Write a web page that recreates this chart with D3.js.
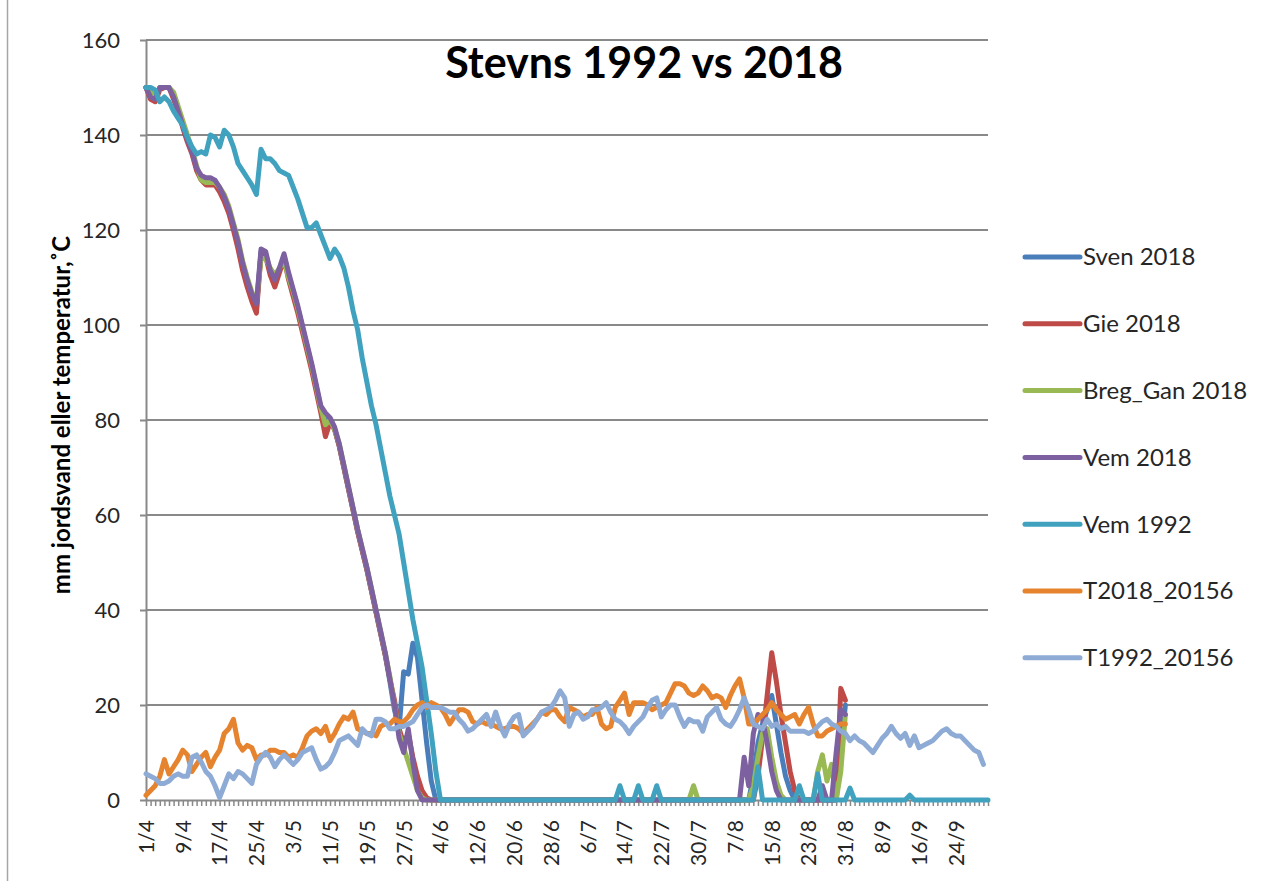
<!DOCTYPE html>
<html>
<head>
<meta charset="utf-8">
<script src="https://cdn.jsdelivr.net/npm/d3@7"></script>
<style>
  body { margin: 0; background: #fff; }
  svg { display: block; font-family: Lato, "Liberation Sans", sans-serif; }
</style>
</head>
<body>
<div id="chart"></div>
<script>
// categories: one per day, 1/4 .. 1/10
const start = new Date(2018, 3, 1);
const categories = d3.timeDay.range(start, d3.timeDay.offset(start, 184)).map(d3.timeFormat("%-d/%-m"));

const tickLabels = ["1/4","9/4","17/4","25/4","3/5","11/5","19/5","27/5","4/6","12/6","20/6","28/6",
  "6/7","14/7","22/7","30/7","7/8","15/8","23/8","31/8","8/9","16/9","24/9"];
const yTicks = [0, 20, 40, 60, 80, 100, 120, 140, 160];

const seriesNames = ["Sven 2018", "Gie 2018", "Breg_Gan 2018", "Vem 2018", "Vem 1992", "T2018_20156", "T1992_20156"];
const seriesColors = ["#4a7ebb", "#be4b48", "#98b954", "#7d60a0", "#40a2bf", "#e6832f", "#8eabd6"];

const sven2018 = [
  150,148,147.5,150,150,150,148,145,142,139,
  136.5,133,131,130.5,130.5,130,128.5,126.5,124,120.5,
  117,112.5,109,106,103.5,115.5,115,111,109,111.5,
  114.5,110.5,107,103.5,99.5,95.5,91.5,87,82.5,80,
  80,78,74.5,70,65.5,61,56.5,52.5,48.5,44,
  39.5,35,30.5,25,19,15,27,26.5,33,30,
  21,12,4,0,0,0,0,0,0,0,
  0,0,0,0,0,0,0,0,0,0,
  0,0,0,0,0,0,0,0,0,0,
  0,0,0,0,0,0,0,0,0,0,
  0,0,0,0,0,0,0,0,0,0,
  0,0,0,0,0,0,0,0,0,0,
  0,0,0,0,0,0,0,0,0,0,
  0,0,5,12,16,19,22,16,10,5,
  2,0,0,0,0,0,0,0,0,0,
  0,10,20];

const gie2018 = [
  150,147.5,147,149.5,150,150,147.5,145,141.5,138.5,
  136,132.5,130.5,129.5,129.5,129.5,128,126,123.5,120,
  116,111.5,108,105,102.5,115,114.5,110.5,108,111,
  114,109.5,106,102.5,98.5,94.5,90.5,86,81.5,76.5,
  79.5,78,74.5,70,65.5,61,56.5,52.5,48.5,44,
  39.5,35,30.5,25.5,21,15,12,14,9,5,
  2,0.5,0,0,0,0,0,0,0,0,
  0,0,0,0,0,0,0,0,0,0,
  0,0,0,0,0,0,0,0,0,0,
  0,0,0,0,0,0,0,0,0,0,
  0,0,0,0,0,0,0,0,0,0,
  0,0,0,0,0,0,0,0,0,0,
  0,0,0,0,0,0,0,0,0,0,
  0,0,0,5,13,22,31,25,18,12,
  6,2,0,0,0,0,0,0,0,0,
  0,23.5,21];

const bregGan2018 = [
  150,149,148,150,150,150,149,146,143,140,
  137,133.5,130.5,130,130,130,129,127.5,125,121.5,
  118,113.5,110,107,105,114,114,112,110.5,112,
  113.5,110,107,103.5,99.5,95.5,91.5,87,82.5,79,
  80,78,75,70.5,66,61.5,57,53,49,44.5,
  40,35.5,31,26,20,14,11,8,5,2,
  0.5,0,0,0,0,0,0,0,0,0,
  0,0,0,0,0,0,0,0,0,0,
  0,0,0,0,0,0,0,0,0,0,
  0,0,0,0,0,0,0,0,0,0,
  0,0,0,0,0,0,0,0,0,0,
  0,0,0,0,0,0,0,0,0,3,
  0,0,0,0,0,0,0,0,0,0,
  0,0,3,9,14,15,9,4,1,0,
  0,0,0,0,0,0,6,9.5,4,7.5,
  0,6,18];

const vem2018 = [
  150,148,147.5,150,150,150,148,145,142,139,
  136.5,133,131.5,131,131,130.5,129,127,124.5,121,
  117.5,113,109.5,106.5,104.5,116,115.5,111.5,109.5,112,
  115,111,107.5,104,100,96,92,87.5,83,81.5,
  80.5,78.5,75,70.5,66,61.5,57,53,49,44.5,
  40,35.5,31,25.5,20,13,10,15,8,2,
  0,0,0,0,0,0,0,0,0,0,
  0,0,0,0,0,0,0,0,0,0,
  0,0,0,0,0,0,0,0,0,0,
  0,0,0,0,0,0,0,0,0,0,
  0,0,0,0,0,0,0,0,0,0,
  0,0,0,0,0,0,0,0,0,0,
  0,0,0,0,0,0,0,0,0,0,
  9,3,14,18,17,12,6,2,0,0,
  0,0,0,0,0,0,0,3,0,0,
  10,19,18];

const vem1992 = [
  150,150,149.5,147,148,147,145,143.5,142,139.5,
  137.5,136,136.5,136,140,139.5,137.5,141,140,137.5,
  134,132.5,131,129.5,127.5,137,135,135,134,132.5,
  132,131.5,129,126.5,123.5,120.5,120.5,121.5,119,116.5,
  114,116,114.5,112,108,103,99,93,88,83,
  79,74,69,64,60,56,50,44,38,33,
  28,21,14,6,0,0,0,0,0,0,
  0,0,0,0,0,0,0,0,0,0,
  0,0,0,0,0,0,0,0,0,0,
  0,0,0,0,0,0,0,0,0,0,
  0,0,0,3,0,0,0,3,0,0,
  0,3,0,0,0,0,0,0,0,0,
  0,0,0,0,0,0,0,0,0,0,
  0,0,0,7,0,0,0,0,0,0,
  0,0,3,0,0,0,5.5,0,0,0,
  0,0,0,2.5,0,0,0,0,0,0,
  0,0,0,0,0,0,1,0,0,0,
  0,0,0,0,0,0,0,0,0,0,
  0,0,0,0];

const t2018 = [
  1,2,3,5,8.5,5.5,7,8.5,10.5,9.5,
  6,7.5,9,10,7,9,10.5,14,15,17,
  12,10.5,11.5,11,8.5,9.5,9.5,10.5,10.5,10,
  10,9,9.5,9,11,13.5,14.5,15,14,15.5,
  12.5,14,16,17.5,17,18.5,15,14.5,14,14,
  13.5,15.5,16,16,17,16.5,16.5,17.5,19,20,
  20.5,19.5,20.5,20,19.5,18,16,17.5,19,19,
  18.5,16.5,16,16.5,16,16,15.5,15,15,15.5,
  15.5,15,14,15,16,17,18.5,18,19,19,
  17.5,16.5,19.5,19,18.5,17.5,18,18,19.5,16,
  15,15.5,19.5,21,22.5,18,20.5,20.5,20.5,20,
  19,19.5,20,20.5,22.5,24.5,24.5,24,22.5,22,
  22.5,24,23,21.5,22,21.5,19.5,22,24,25.5,
  21.5,16,16,17,18,19,20.5,19,18,17,
  17.5,18,16,18,19.5,16,13.5,13.5,14.5,15,
  15.5,16,16];

const t1992 = [
  5.5,5,4.5,3.5,3.5,4,5,5.5,5,5,
  9,9.5,8,6,5,3,0.5,3,5.5,4.5,
  6,5.5,4.5,3.5,7.5,9,10,9,7,8.5,
  9.5,8.5,7.5,8.5,10,10.5,11,8.5,6.5,7,
  8,10,12.5,13,13.5,12.5,11.5,15,14,13.5,
  17,17,16.5,15,15,15.5,15.5,16,16.5,18,
  19.5,20,19.5,19.5,19.5,19,18.5,18.5,17,16,
  14.5,15,16,17,18,15.5,18.5,15.5,13.5,16,
  17.5,18,13.5,14.5,15.5,17,18.5,19,19.5,21,
  23,21.5,15.5,18,18.5,17,17.5,19,19,19.5,
  20.5,18.5,17,16.5,15.5,14,15.5,16.5,17.5,19.5,
  21,21.5,17.5,19,20,20,17.5,15.5,17,16.5,
  16.5,14.5,17.5,18.5,19.5,17,16,15.5,17,19,
  21.5,19,16,15.5,15,17,15.5,16,15,15.5,
  14.5,14.5,14.5,14.5,14,14.5,15.5,16.5,17,16,
  15.5,14.5,14,12.5,13.5,12.5,12,11,10,11.5,
  13,14,15.5,14,13,14,11.5,13.5,11,11.5,
  12,12.5,13.5,14.5,15,14,13.5,13.5,12.5,11.5,
  10.5,10,7.5];

const seriesValues = [sven2018, gie2018, bregGan2018, vem2018, vem1992, t2018, t1992];

const width = 1276;
const height = 881;
const marginTop = 40;
const marginBottom = 81;
const marginLeft = 146;
const marginRight = 288;
const gray = "#898989";

const x = d3.scalePoint()
    .domain(categories)
    .range([marginLeft, width - marginRight]);

const y = d3.scaleLinear()
    .domain([0, 160])
    .range([height - marginBottom, marginTop]);

const svg = d3.select("#chart")
  .append("svg")
    .attr("width", width)
    .attr("height", height)
    .attr("viewBox", [0, 0, width, height]);

// chart area border (left edge)
svg.append("line")
    .attr("x1", 7.5).attr("x2", 7.5)
    .attr("y1", 0).attr("y2", height)
    .attr("stroke", "#a6a6a6")
    .attr("stroke-width", 1.5);

// horizontal grid lines
svg.append("g")
    .attr("stroke", gray)
    .attr("stroke-width", 2)
  .selectAll("line")
  .data(yTicks.filter(d => d > 0))
  .join("line")
    .attr("x1", marginLeft)
    .attr("x2", width - marginRight)
    .attr("y1", d => y(d))
    .attr("y2", d => y(d));

// vertical axis
svg.append("g")
    .attr("transform", `translate(${marginLeft},0)`)
    .call(d3.axisLeft(y).tickValues(yTicks).tickSize(6).tickSizeOuter(0).tickPadding(20))
    .call(g => g.select(".domain").attr("stroke", gray).attr("stroke-width", 2))
    .call(g => g.selectAll(".tick line").attr("stroke", gray).attr("stroke-width", 2))
    .call(g => g.selectAll(".tick text")
        .attr("fill", "#262626")
        .style("font-size", "22px")
        .style("font-family", "Lato, 'Liberation Sans', sans-serif"));

// horizontal axis, one tick per day
svg.append("g")
    .attr("transform", `translate(0,${height - marginBottom})`)
    .call(d3.axisBottom(x).tickValues(categories).tickSize(6).tickSizeOuter(0)
        .tickFormat(d => tickLabels.includes(d) ? d : ""))
    .call(g => g.select(".domain").attr("stroke", gray).attr("stroke-width", 2))
    .call(g => g.selectAll(".tick line").attr("stroke", gray).attr("stroke-width", 1.5))
    .call(g => g.selectAll(".tick text")
        .attr("transform", "rotate(-90)")
        .attr("x", -20)
        .attr("y", 0)
        .attr("dy", "0.35em")
        .attr("text-anchor", "end")
        .attr("fill", "#262626")
        .style("font-size", "21px")
        .style("font-family", "Lato, 'Liberation Sans', sans-serif"));

// the lines
const line = d3.line()
    .defined(d => d != null)
    .x((d, i) => x(categories[i]))
    .y(d => y(d));

svg.append("g")
    .attr("fill", "none")
  .selectAll("path")
  .data(seriesValues)
  .join("path")
    .attr("stroke", (d, i) => seriesColors[i])
    .attr("stroke-width", 5)
    .attr("stroke-linejoin", "round")
    .attr("stroke-linecap", "round")
    .attr("d", line);

// title
svg.append("text")
    .attr("x", 644)
    .attr("y", 78)
    .attr("text-anchor", "middle")
    .attr("fill", "#000")
    .style("font-size", "43px")
    .style("font-weight", "bold")
    .text("Stevns 1992 vs 2018");

// y axis title
svg.append("text")
    .attr("transform", "translate(62,415) rotate(-90)")
    .attr("text-anchor", "middle")
    .attr("dy", "0.35em")
    .attr("fill", "#000")
    .style("font-size", "24px")
    .style("font-weight", "bold")
    .text("mm jordsvand eller temperatur,˚C");

// legend
const legend = svg.append("g")
  .selectAll("g")
  .data(seriesNames)
  .join("g")
    .attr("transform", (d, i) => `translate(1025,${257 + i * 66.8})`);

legend.append("line")
    .attr("x1", 0).attr("x2", 55)
    .attr("stroke", (d, i) => seriesColors[i])
    .attr("stroke-width", 5)
    .attr("stroke-linecap", "round");

legend.append("text")
    .attr("x", 58)
    .attr("dy", "0.35em")
    .attr("fill", "#262626")
    .style("font-size", "24px")
    .text(d => d);
</script>
</body>
</html>
